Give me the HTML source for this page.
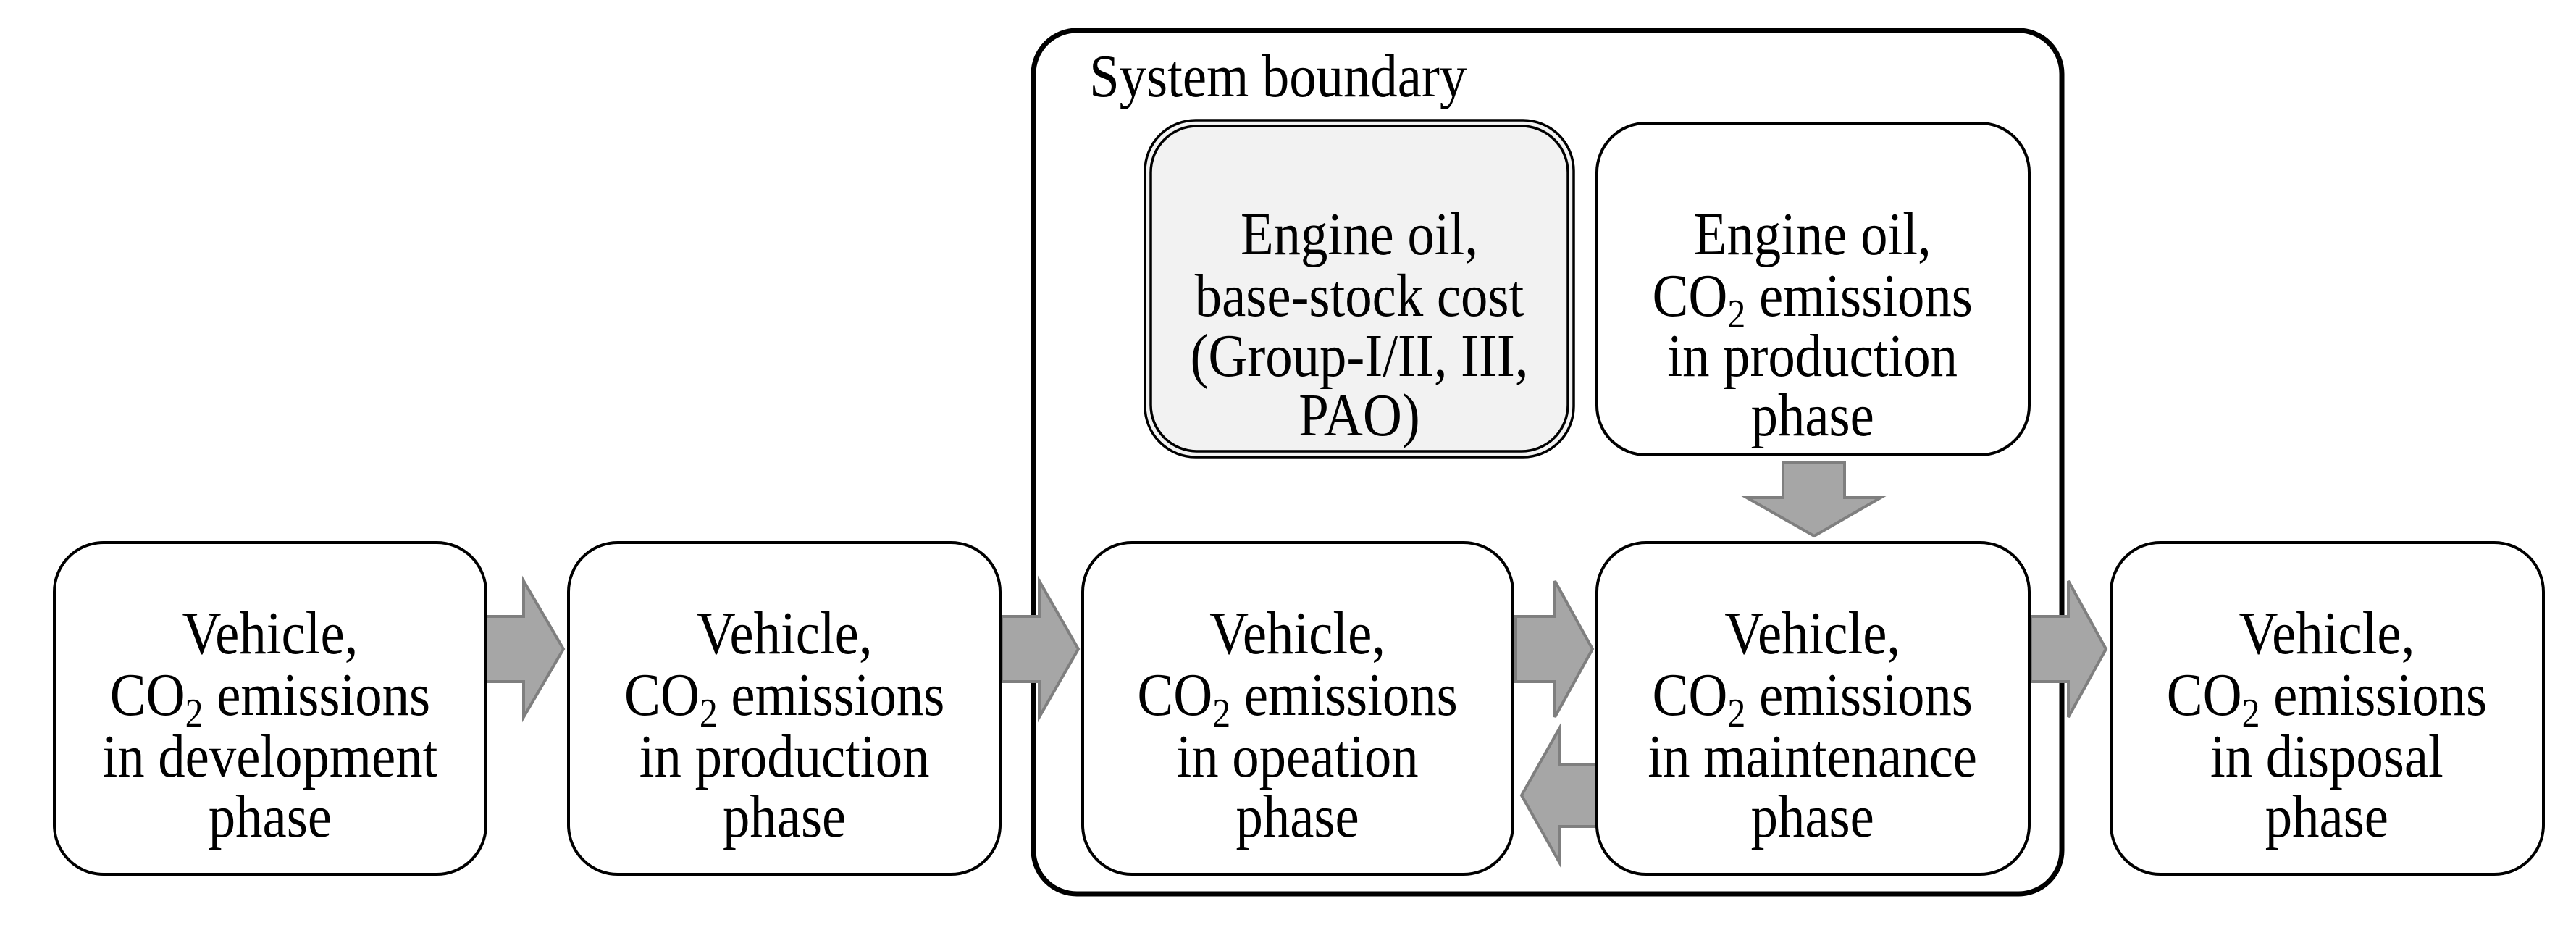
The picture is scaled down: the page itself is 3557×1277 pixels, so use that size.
<!DOCTYPE html>
<html><head><meta charset="utf-8"><style>html,body{margin:0;padding:0;background:#fff}svg{display:block}text{font-family:"Liberation Serif","Times New Roman",Times,"DejaVu Serif","Noto Serif CJK SC",serif}</style></head>
<body>
<svg width="3557" height="1277" viewBox="0 0 3557 1277" xmlns="http://www.w3.org/2000/svg">
<rect width="3557" height="1277" fill="#fff"/>
<rect x="1427" y="42" width="1420" height="1192" rx="60" fill="none" stroke="#000" stroke-width="7"/>
<g fill="#a6a6a6" stroke="#7f7f7f" stroke-width="4">
<polygon points="671,851 723,851 723,802 778,896 723,990 723,941 671,941"/>
<polygon points="1383,851 1435,851 1435,802 1489,896 1435,990 1435,941 1383,941"/>
<polygon points="2093,851 2147,851 2147,802 2199,896 2147,990 2147,941 2093,941"/>
<polygon points="2804,851 2856,851 2856,802 2908,896 2856,990 2856,941 2804,941"/>
<polygon points="2205,1055 2153,1055 2153,1006 2101,1098 2153,1190 2153,1141 2205,1141"/>
<polygon points="2462,638 2547,638 2547,687 2597,687 2505,740 2412,687 2462,687"/>
</g>
<g fill="#fff" stroke="#000" stroke-width="4">
<rect x="75" y="749" width="596" height="458" rx="68"/>
<rect x="785" y="749" width="596" height="458" rx="68"/>
<rect x="1495" y="749" width="594" height="458" rx="68"/>
<rect x="2205" y="749" width="597" height="458" rx="68"/>
<rect x="2915" y="749" width="597" height="458" rx="68"/>
<rect x="2205" y="170" width="597" height="458" rx="68"/>
</g>
<rect x="1581" y="166" width="592" height="465" rx="70" fill="#f2f2f2" stroke="#000" stroke-width="3.5"/>
<rect x="1589" y="174" width="576" height="449" rx="64" fill="none" stroke="#000" stroke-width="3.5"/>
<g transform="scale(0.89,1)" font-size="84" text-anchor="middle" fill="#000">
<text x="1690" y="133" text-anchor="start">System boundary</text>
<text x="419" y="902">Vehicle,</text><text x="419" y="987">CO<tspan font-size="56" dy="16">2</tspan><tspan dy="-16"> emissions</tspan></text><text x="419" y="1072">in development</text><text x="419" y="1155">phase</text>
<text x="1217" y="902">Vehicle,</text><text x="1217" y="987">CO<tspan font-size="56" dy="16">2</tspan><tspan dy="-16"> emissions</tspan></text><text x="1217" y="1072">in production</text><text x="1217" y="1155">phase</text>
<text x="2013" y="902">Vehicle,</text><text x="2013" y="987">CO<tspan font-size="56" dy="16">2</tspan><tspan dy="-16"> emissions</tspan></text><text x="2013" y="1072">in opeation</text><text x="2013" y="1155">phase</text>
<text x="2812" y="902">Vehicle,</text><text x="2812" y="987">CO<tspan font-size="56" dy="16">2</tspan><tspan dy="-16"> emissions</tspan></text><text x="2812" y="1072">in maintenance</text><text x="2812" y="1155">phase</text>
<text x="3610" y="902">Vehicle,</text><text x="3610" y="987">CO<tspan font-size="56" dy="16">2</tspan><tspan dy="-16"> emissions</tspan></text><text x="3610" y="1072">in disposal</text><text x="3610" y="1155">phase</text>
<text x="2109" y="351">Engine oil,</text><text x="2109" y="436">base-stock cost</text><text x="2109" y="519">(Group-I/II, III,</text><text x="2109" y="601">PAO)</text>
<text x="2812" y="351">Engine oil,</text><text x="2812" y="436">CO<tspan font-size="56" dy="16">2</tspan><tspan dy="-16"> emissions</tspan></text><text x="2812" y="519">in production</text><text x="2812" y="601">phase</text>
</g>
</svg>
</body></html>
